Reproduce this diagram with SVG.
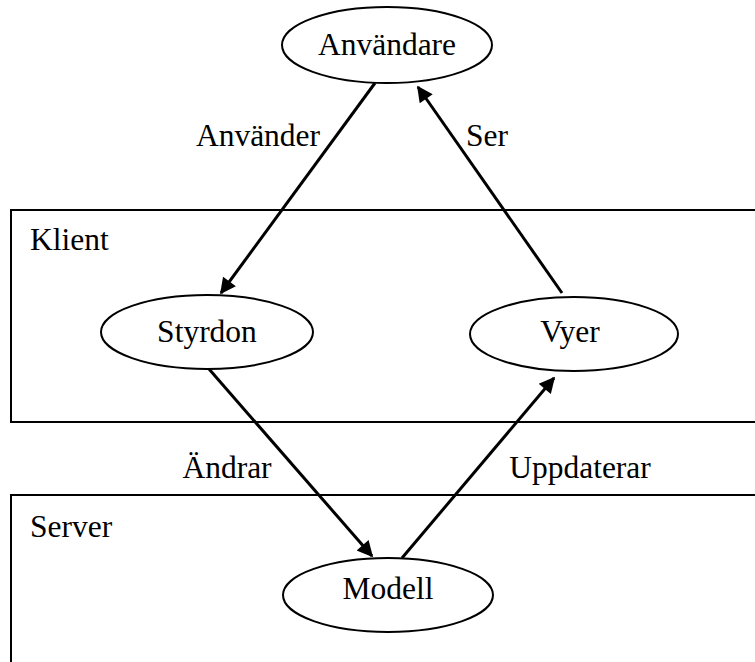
<svg xmlns="http://www.w3.org/2000/svg" width="755" height="662" viewBox="0 0 755 662">
  <style>
    .box { fill: none; stroke: #000; stroke-width: 2; }
    .node ellipse { fill: none; stroke: #000; stroke-width: 2; }
    .lbl { font-family: 'Liberation Serif', Tinos, 'Noto Serif', 'DejaVu Serif', 'Times New Roman', Times, serif; font-size: 31.5px; fill: #000; }
    .c { text-anchor: middle; }
    .edge { stroke: #000; stroke-width: 3; fill: none; marker-end: url(#arrow); }
  </style>
  <defs>
    <marker id="arrow" viewBox="0 0 10 10" refX="9" refY="5" markerWidth="7.5" markerHeight="5.3" markerUnits="strokeWidth" orient="auto">
      <path d="M0,0 L10,5 L0,10 Z" fill="#000"/>
    </marker>
  </defs>

  <!-- tiers -->
  <g id="klient">
    <rect class="box" x="11" y="210" width="760" height="212"/>
    <text class="lbl" x="30" y="250">Klient</text>
  </g>
  <g id="server">
    <rect class="box" x="11" y="495" width="760" height="200"/>
    <text class="lbl" x="30" y="537">Server</text>
  </g>

  <!-- connectors -->
  <g id="connectors">
    <line class="edge" x1="375" y1="83" x2="221" y2="293"/>
    <line class="edge" x1="562" y1="293" x2="418" y2="87"/>
    <line class="edge" x1="209" y1="369" x2="372" y2="556"/>
    <line class="edge" x1="402" y1="558" x2="554" y2="378"/>
    <text class="lbl c" x="258" y="146">Använder</text>
    <text class="lbl c" x="487" y="146">Ser</text>
    <text class="lbl c" x="227" y="478">Ändrar</text>
    <text class="lbl c" x="580" y="478">Uppdaterar</text>
  </g>

  <!-- nodes -->
  <g id="anvandare" class="node">
    <ellipse cx="387" cy="45" rx="105" ry="38"/>
    <text class="lbl c" x="387" y="55">Användare</text>
  </g>
  <g id="styrdon" class="node">
    <ellipse cx="207" cy="332" rx="106" ry="37"/>
    <text class="lbl c" x="207" y="342">Styrdon</text>
  </g>
  <g id="vyer" class="node">
    <ellipse cx="574" cy="334" rx="104" ry="37"/>
    <text class="lbl c" x="570" y="342">Vyer</text>
  </g>
  <g id="modell" class="node">
    <ellipse cx="388" cy="595" rx="105" ry="37"/>
    <text class="lbl c" x="388" y="599">Modell</text>
  </g>
</svg>
